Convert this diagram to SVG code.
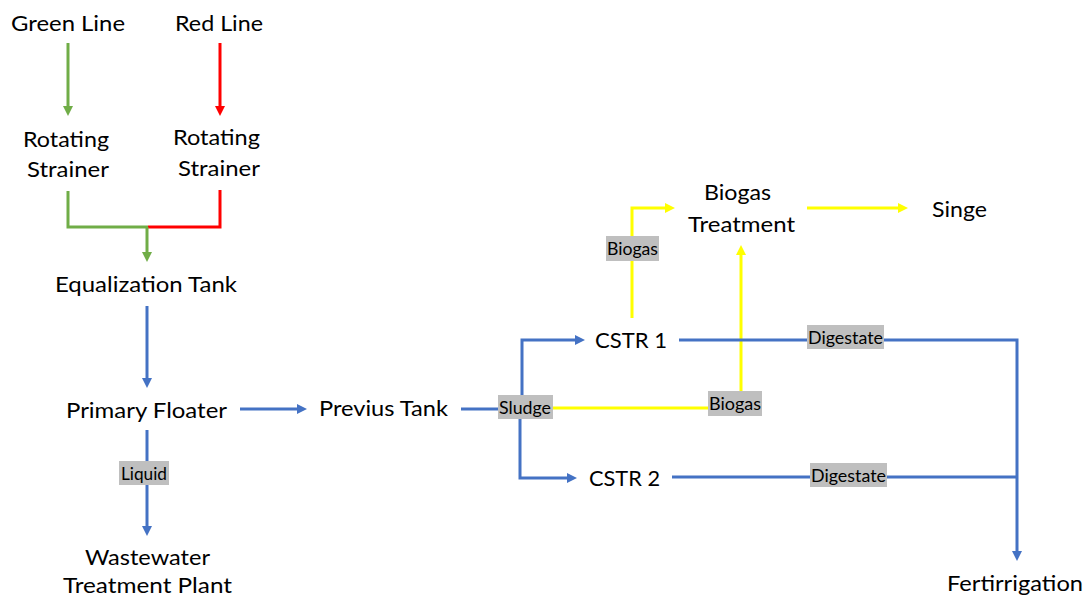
<svg xmlns="http://www.w3.org/2000/svg" width="1085" height="598" viewBox="0 0 1085 598">
<style>
.t{font-family:Lato,"Open Sans","Liberation Sans",sans-serif;font-size:22px;fill:#000;text-anchor:start}
.l{font-family:Lato,"Open Sans","Liberation Sans",sans-serif;font-size:17px;fill:#000;text-anchor:start}
.lb{fill:#BFBFBF}
.c{fill:none;stroke-width:3}
.g{stroke:#70AD47}.r{stroke:#FF0000}.b{stroke:#4472C4}.y{stroke:#FFFF00}
</style>
<defs>
<marker id="ag" viewBox="0 0 10 10" refX="2" refY="5" markerWidth="10" markerHeight="10" markerUnits="userSpaceOnUse" orient="auto"><path d="M0,0L10,5L0,10z" fill="#70AD47"/></marker>
<marker id="ar" viewBox="0 0 10 10" refX="2" refY="5" markerWidth="10" markerHeight="10" markerUnits="userSpaceOnUse" orient="auto"><path d="M0,0L10,5L0,10z" fill="#FF0000"/></marker>
<marker id="ab" viewBox="0 0 10 10" refX="2" refY="5" markerWidth="10" markerHeight="10" markerUnits="userSpaceOnUse" orient="auto"><path d="M0,0L10,5L0,10z" fill="#4472C4"/></marker>
<marker id="ay" viewBox="0 0 10 10" refX="2" refY="5" markerWidth="10" markerHeight="10" markerUnits="userSpaceOnUse" orient="auto"><path d="M0,0L10,5L0,10z" fill="#FFFF00"/></marker>
</defs>
<rect width="1085" height="598" fill="#fff"/>
<g id="connectors">
<path class="c g" d="M68,43V108" marker-end="url(#ag)"/>
<path class="c r" d="M220,43V108" marker-end="url(#ar)"/>
<path class="c r" d="M220,190V227H148"/>
<path class="c g" d="M68,191V227H148"/>
<path class="c g" d="M147,227V254" marker-end="url(#ag)"/>
<path class="c b" d="M147,306V380" marker-end="url(#ab)"/>
<path class="c b" d="M240,409H299" marker-end="url(#ab)"/>
<path class="c b" d="M461,409H500"/>
<path class="c b" d="M522,396V340H577" marker-end="url(#ab)"/>
<path class="c b" d="M520,418V478H569" marker-end="url(#ab)"/>
<path class="c y" d="M553,408H710"/>
<path class="c y" d="M741,392V253" marker-end="url(#ay)"/>
<path class="c y" d="M632,318V208H667" marker-end="url(#ay)"/>
<path class="c y" d="M807,208H900" marker-end="url(#ay)"/>
<path class="c b" d="M679,340H1017V553" marker-end="url(#ab)"/>
<path class="c b" d="M672,477H1017"/>
<path class="c b" d="M147,430V528" marker-end="url(#ab)"/>
<g id="label-liquid"><rect class="lb" x="119" y="461" width="50" height="24"/><text class="l" x="121" y="480" textLength="46" lengthAdjust="spacingAndGlyphs">Liquid</text></g>
<g id="label-sludge"><rect class="lb" x="498" y="395" width="55" height="24"/><text class="l" x="499" y="414" textLength="52" lengthAdjust="spacingAndGlyphs">Sludge</text></g>
<g id="label-biogas1"><rect class="lb" x="606" y="236" width="53" height="25"/><text class="l" x="607" y="255" textLength="51" lengthAdjust="spacingAndGlyphs">Biogas</text></g>
<g id="label-biogas2"><rect class="lb" x="708" y="391" width="54" height="25"/><text class="l" x="709" y="410" textLength="52" lengthAdjust="spacingAndGlyphs">Biogas</text></g>
<g id="label-digestate1"><rect class="lb" x="807" y="325" width="77" height="24"/><text class="l" x="808" y="344" textLength="75" lengthAdjust="spacingAndGlyphs">Digestate</text></g>
<g id="label-digestate2"><rect class="lb" x="810" y="463" width="77" height="24"/><text class="l" x="811" y="482" textLength="75" lengthAdjust="spacingAndGlyphs">Digestate</text></g>
</g>
<g id="green-line"><text class="t" x="11" y="31" textLength="114" lengthAdjust="spacingAndGlyphs">Green Line</text></g>
<g id="red-line"><text class="t" x="175" y="31" textLength="88" lengthAdjust="spacingAndGlyphs">Red Line</text></g>
<g id="strainer-left"><text class="t" x="23" y="147" textLength="86" lengthAdjust="spacingAndGlyphs">Rotating</text><text class="t" x="27" y="177" textLength="82" lengthAdjust="spacingAndGlyphs">Strainer</text></g>
<g id="strainer-right"><text class="t" x="173" y="145" textLength="87" lengthAdjust="spacingAndGlyphs">Rotating</text><text class="t" x="178" y="176" textLength="82" lengthAdjust="spacingAndGlyphs">Strainer</text></g>
<g id="equalization-tank"><text class="t" x="55" y="292" textLength="182" lengthAdjust="spacingAndGlyphs">Equalization Tank</text></g>
<g id="primary-floater"><text class="t" x="66" y="418" textLength="161" lengthAdjust="spacingAndGlyphs">Primary Floater</text></g>
<g id="previus-tank"><text class="t" x="319" y="416" textLength="129" lengthAdjust="spacingAndGlyphs">Previus Tank</text></g>
<g id="wastewater-plant"><text class="t" x="85" y="565" textLength="125" lengthAdjust="spacingAndGlyphs">Wastewater</text><text class="t" x="63" y="593" textLength="169" lengthAdjust="spacingAndGlyphs">Treatment Plant</text></g>
<g id="cstr1"><text class="t" x="595" y="348" textLength="72" lengthAdjust="spacingAndGlyphs">CSTR 1</text></g>
<g id="cstr2"><text class="t" x="589" y="486" textLength="71" lengthAdjust="spacingAndGlyphs">CSTR 2</text></g>
<g id="biogas-treatment"><text class="t" x="704" y="200" textLength="67" lengthAdjust="spacingAndGlyphs">Biogas</text><text class="t" x="688" y="232" textLength="107" lengthAdjust="spacingAndGlyphs">Treatment</text></g>
<g id="singe"><text class="t" x="932" y="217" textLength="55" lengthAdjust="spacingAndGlyphs">Singe</text></g>
<g id="fertirrigation"><text class="t" x="947" y="591" textLength="136" lengthAdjust="spacingAndGlyphs">Fertirrigation</text></g>
</svg>
